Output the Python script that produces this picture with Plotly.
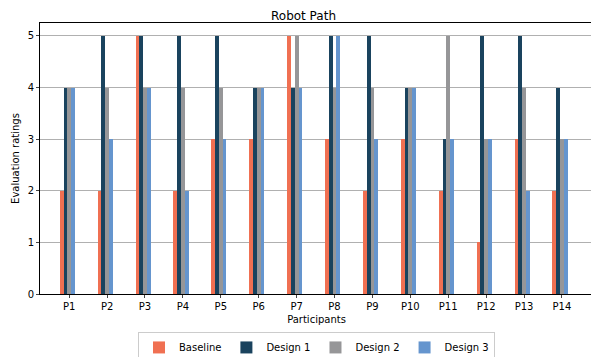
import plotly.graph_objects as go

participants = ["P1", "P2", "P3", "P4", "P5", "P6", "P7", "P8", "P9", "P10", "P11", "P12", "P13", "P14"]
baseline = [2, 2, 5, 2, 3, 3, 5, 3, 2, 3, 2, 1, 3, 2]
design1 = [4, 5, 5, 5, 5, 4, 4, 5, 5, 4, 3, 5, 5, 4]
design2 = [4, 4, 4, 4, 4, 4, 5, 4, 4, 4, 5, 3, 4, 3]
design3 = [4, 3, 4, 2, 3, 4, 4, 5, 3, 4, 3, 3, 2, 3]

series = [
    ("Baseline", baseline, "#f07052", -0.25),
    ("Design 1", design1, "#1a435e", -0.15),
    ("Design 2", design2, "#969698", -0.05),
    ("Design 3", design3, "#6595ce", 0.05),
]

fig = go.Figure()
for name, vals, color, off in series:
    fig.add_trace(go.Bar(x=list(range(len(participants))), y=vals, name=name,
                         marker=dict(color=color, line=dict(width=0)),
                         width=0.1, offset=off))

# page body has an 8px margin, so the figure is a bit smaller than the window
fig.update_layout(
    width=591, height=349,
    barmode="overlay",
    plot_bgcolor="white", paper_bgcolor="white",
    font=dict(family="DejaVu Sans", size=10, color="black"),
    margin=dict(l=32, r=6, t=15, b=63, autoexpand=False),
    title=dict(text="Robot Path", x=0.5, xanchor="center", y=0.979, yanchor="middle",
               font=dict(size=12)),
    showlegend=True,
    legend=dict(orientation="h", x=0.5, xanchor="center", y=-0.14, yanchor="top",
                bordercolor="#cccccc", borderwidth=1, font=dict(size=10),
                itemwidth=30, traceorder="normal"),
    bargap=0,
)
fig.update_xaxes(
    tickmode="array", tickvals=list(range(len(participants))), ticktext=participants,
    range=[-0.77, 13.82], showgrid=False, showline=True, linecolor="black", mirror=True,
    ticks="outside", ticklen=3, zeroline=False, automargin=False,
    title=dict(text="Participants", standoff=4, font=dict(size=10)),
)
fig.update_yaxes(
    range=[0, 5.25], dtick=1, showgrid=True, gridcolor="#b0b0b0", showline=True,
    linecolor="black", mirror=True, ticks="outside", ticklen=3, zeroline=False,
    automargin=False,
    title=dict(text="Evaluation ratings", standoff=6, font=dict(size=10)),
)

fig.write_html("out.html")
